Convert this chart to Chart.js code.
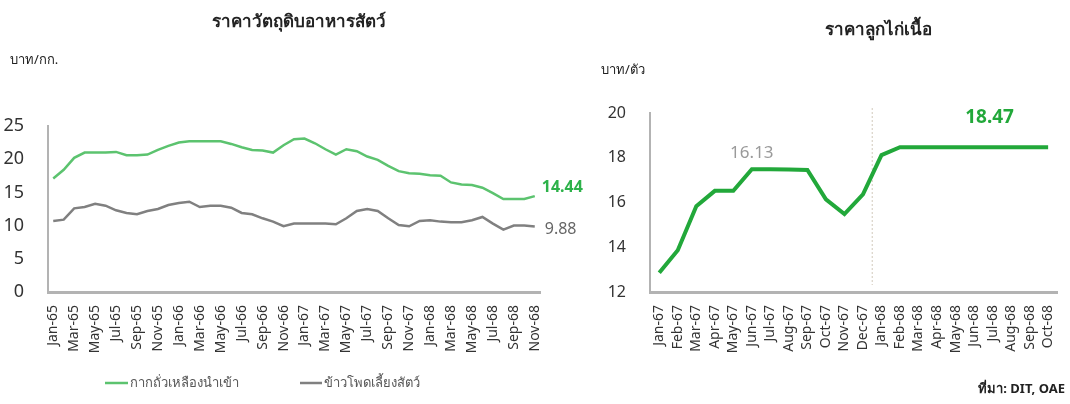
<!DOCTYPE html>
<html>
<head>
<meta charset="utf-8">
<script src="https://cdn.jsdelivr.net/npm/chart.js@4"></script>
<style>
  html, body { margin: 0; padding: 0; background: #fff; }
  body { width: 1070px; height: 404px; position: relative; overflow: hidden; }
  #wrapL { position: absolute; left: 0; top: 0; width: 600px; height: 404px; }
  #wrapR { position: absolute; left: 590px; top: 0; width: 480px; height: 404px; }
</style>
</head>
<body>
<div id="wrapL"><canvas id="feed"></canvas></div>
<div id="wrapR"><canvas id="chick"></canvas></div>
<script>
// ราคาวัตถุดิบอาหารสัตว์ (บาท/กก.)
const feedMonths = [
  'Jan-65','Feb-65','Mar-65','Apr-65','May-65','Jun-65','Jul-65','Aug-65','Sep-65','Oct-65','Nov-65','Dec-65',
  'Jan-66','Feb-66','Mar-66','Apr-66','May-66','Jun-66','Jul-66','Aug-66','Sep-66','Oct-66','Nov-66','Dec-66',
  'Jan-67','Feb-67','Mar-67','Apr-67','May-67','Jun-67','Jul-67','Aug-67','Sep-67','Oct-67','Nov-67','Dec-67',
  'Jan-68','Feb-68','Mar-68','Apr-68','May-68','Jun-68','Jul-68','Aug-68','Sep-68','Oct-68','Nov-68'
];
const soyMeal = [
  17.1, 18.4, 20.2, 21.0, 21.0, 21.0, 21.1, 20.6, 20.6, 20.7, 21.4, 22.0,
  22.5, 22.7, 22.7, 22.7, 22.7, 22.3, 21.8, 21.4, 21.3, 21.0, 22.1, 23.0,
  23.1, 22.4, 21.5, 20.7, 21.5, 21.2, 20.4, 19.9, 19.0, 18.2, 17.9, 17.8,
  17.6, 17.5, 16.5, 16.2, 16.1, 15.7, 14.9, 14.0, 14.0, 14.0, 14.44
];
const maize = [
  10.7, 10.9, 12.6, 12.8, 13.3, 13.0, 12.3, 11.9, 11.7, 12.2, 12.5, 13.1,
  13.4, 13.6, 12.8, 13.0, 13.0, 12.7, 11.9, 11.7, 11.1, 10.6, 9.9, 10.3,
  10.3, 10.3, 10.3, 10.2, 11.1, 12.2, 12.5, 12.2, 11.1, 10.1, 9.9, 10.7,
  10.8, 10.6, 10.5, 10.5, 10.8, 11.3, 10.3, 9.4, 10.0, 10.0, 9.88
];
const feedTicks = [0, 5, 10, 15, 20, 25];

// ราคาลูกไก่เนื้อ (บาท/ตัว)
const chickMonths = [
  'Jan-67','Feb-67','Mar-67','Apr-67','May-67','Jun-67','Jul-67','Aug-67','Sep-67','Oct-67','Nov-67','Dec-67',
  'Jan-68','Feb-68','Mar-68','Apr-68','May-68','Jun-68','Jul-68','Aug-68','Sep-68','Oct-68'
];
const chickPrice = [
  12.86, 13.87, 15.83, 16.52, 16.52, 17.49, 17.49, 17.48, 17.45, 16.14, 15.48, 16.36,
  18.12, 18.47, 18.47, 18.47, 18.47, 18.47, 18.47, 18.47, 18.47, 18.47
];
const chickTicks = [12, 14, 16, 18, 20];

const FONT = "'Noto Sans', 'Liberation Sans', sans-serif";
const GREEN_L = '#5cc36f';
const GREY_L = '#808080';
const GREEN_R = '#22a83a';

// ---------- กราฟซ้าย ----------
const feedText = {
  id: 'feedText',
  afterDraw(chart) {
    const ctx = chart.ctx;
    const x = chart.scales.x, y = chart.scales.y;
    ctx.save();
    ctx.textBaseline = 'middle';
    ctx.fillStyle = '#222';
    ctx.font = 'bold 17px ' + FONT;
    ctx.textAlign = 'center';
    ctx.fillText('ราคาวัตถุดิบอาหารสัตว์', 299, 22);
    ctx.font = '13px ' + FONT;
    ctx.textAlign = 'left';
    ctx.fillText('บาท/กก.', 10, 60);

    // ค่าล่าสุด
    const last = feedMonths.length - 1;
    ctx.font = 'bold 16px ' + FONT;
    ctx.fillStyle = '#2db24a';
    ctx.fillText(soyMeal[last].toFixed(2), x.getPixelForValue(last) + 7, y.getPixelForValue(soyMeal[last]) - 9);
    ctx.font = '16px ' + FONT;
    ctx.fillStyle = '#666';
    ctx.fillText(maize[last].toFixed(2), x.getPixelForValue(last) + 10, y.getPixelForValue(maize[last]) + 3);

    // legend
    const ly = 383;
    ctx.lineWidth = 2.5;
    ctx.strokeStyle = GREEN_L;
    ctx.beginPath(); ctx.moveTo(105, ly); ctx.lineTo(128, ly); ctx.stroke();
    ctx.strokeStyle = GREY_L;
    ctx.beginPath(); ctx.moveTo(300, ly); ctx.lineTo(322, ly); ctx.stroke();
    ctx.font = '13px ' + FONT;
    ctx.fillStyle = '#555';
    ctx.fillText('กากถั่วเหลืองนำเข้า', 130, ly);
    ctx.fillText('ข้าวโพดเลี้ยงสัตว์', 324, ly);
    ctx.restore();
  }
};

new Chart(document.getElementById('feed'), {
  type: 'line',
  data: {
    labels: feedMonths,
    datasets: [
      { label: 'กากถั่วเหลืองนำเข้า', data: soyMeal, borderColor: GREEN_L, borderWidth: 2.5, pointRadius: 0, tension: 0 },
      { label: 'ข้าวโพดเลี้ยงสัตว์', data: maize, borderColor: GREY_L, borderWidth: 2.5, pointRadius: 0, tension: 0 }
    ]
  },
  options: {
    responsive: true,
    maintainAspectRatio: false,
    animation: false,
    layout: { padding: { top: 126, right: 60, bottom: 0, left: 0 } },
    plugins: { legend: { display: false }, tooltip: { enabled: false } },
    scales: {
      x: {
        offset: true,
        grid: { display: false },
        border: { display: true, color: '#b3b3b3', width: 3 },
        ticks: {
          autoSkip: false, maxRotation: 90, minRotation: 90, padding: 5,
          color: '#333', font: { family: FONT, size: 14 },
          callback(v, i) { return i % 2 === 0 ? feedMonths[i] : ''; }
        },
        afterFit(s) { s.height = 112; }
      },
      y: {
        min: 0, max: 25,
        afterBuildTicks(s) { s.ticks = feedTicks.map(v => ({ value: v })); },
        grid: { display: false },
        border: { display: true, color: '#b3b3b3', width: 2 },
        ticks: { color: '#333', padding: 16, font: { family: FONT, size: 18 } },
        afterFit(s) { s.width = 48; }
      }
    }
  },
  plugins: [feedText]
});

// ---------- กราฟขวา ----------
const chickText = {
  id: 'chickText',
  beforeDatasetsDraw(chart) {
    const ctx = chart.ctx;
    const x = chart.scales.x;
    const xm = (x.getPixelForValue(11) + x.getPixelForValue(12)) / 2;
    ctx.save();
    ctx.strokeStyle = '#d2c9bb';
    ctx.lineWidth = 1;
    ctx.setLineDash([2, 2]);
    ctx.beginPath();
    ctx.moveTo(xm, chart.chartArea.top - 5);
    ctx.lineTo(xm, chart.chartArea.bottom - 7);
    ctx.stroke();
    ctx.restore();
  },
  afterDraw(chart) {
    const ctx = chart.ctx;
    const x = chart.scales.x, y = chart.scales.y;
    ctx.save();
    ctx.textBaseline = 'middle';
    ctx.textAlign = 'center';
    ctx.fillStyle = '#222';
    ctx.font = 'bold 17px ' + FONT;
    ctx.fillText('ราคาลูกไก่เนื้อ', 288, 30);
    ctx.font = '13px ' + FONT;
    ctx.textAlign = 'left';
    ctx.fillText('บาท/ตัว', 11, 70);

    ctx.textAlign = 'center';
    ctx.font = '17px ' + FONT;
    ctx.fillStyle = '#9a9a9a';
    ctx.fillText('16.13', x.getPixelForValue(5), y.getPixelForValue(chickPrice[5]) - 16);
    ctx.font = 'bold 19px ' + FONT;
    ctx.fillStyle = GREEN_R;
    ctx.fillText(chickPrice[18].toFixed(2), x.getPixelForValue(18) - 3, y.getPixelForValue(chickPrice[18]) - 30);

    ctx.font = 'bold 13px ' + FONT;
    ctx.fillStyle = '#222';
    ctx.textAlign = 'right';
    ctx.fillText('ที่มา: DIT, OAE', 475, 389);
    ctx.restore();
  }
};

new Chart(document.getElementById('chick'), {
  type: 'line',
  data: {
    labels: chickMonths,
    datasets: [
      { label: 'ราคาลูกไก่เนื้อ', data: chickPrice, borderColor: GREEN_R, borderWidth: 4, pointRadius: 0, tension: 0 }
    ]
  },
  options: {
    responsive: true,
    maintainAspectRatio: false,
    animation: false,
    layout: { padding: { top: 113, right: 3, bottom: 0, left: 0 } },
    plugins: { legend: { display: false }, tooltip: { enabled: false } },
    scales: {
      x: {
        offset: true,
        grid: { display: false },
        border: { display: true, color: '#b3b3b3', width: 3 },
        ticks: {
          autoSkip: false, maxRotation: 90, minRotation: 90, padding: 5,
          color: '#333', font: { family: FONT, size: 14 }
        },
        afterFit(s) { s.height = 112; }
      },
      y: {
        min: 12, max: 20,
        afterBuildTicks(s) { s.ticks = chickTicks.map(v => ({ value: v })); },
        grid: { display: false },
        border: { display: true, color: '#b3b3b3', width: 2 },
        ticks: { color: '#333', padding: 16, font: { family: FONT, size: 16 } },
        afterFit(s) { s.width = 60; }
      }
    }
  },
  plugins: [chickText]
});
</script>
</body>
</html>
